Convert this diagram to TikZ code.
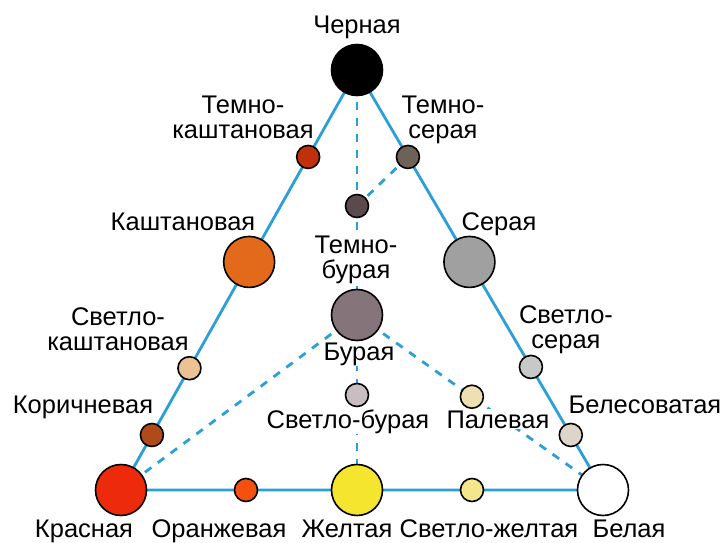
\documentclass[tikz,border=0pt]{standalone}
\usepackage{fontspec}
\setmainfont{Liberation Sans}
\usetikzlibrary{calc}
\definecolor{edgeblue}{HTML}{2A9FD8}
\definecolor{cKr}{HTML}{EE2A0C}
\definecolor{cTk}{HTML}{C0300A}
\definecolor{cKa}{HTML}{E36A1A}
\definecolor{cSk}{HTML}{EBC294}
\definecolor{cKo}{HTML}{B04A1A}
\definecolor{cTs}{HTML}{6E6258}
\definecolor{cSe}{HTML}{A0A0A0}
\definecolor{cSs}{HTML}{C8C8C8}
\definecolor{cBs}{HTML}{DDD5CC}
\definecolor{cTb}{HTML}{5A4A4C}
\definecolor{cBu}{HTML}{85747A}
\definecolor{cSb}{HTML}{C8BEC2}
\definecolor{cPa}{HTML}{EEE0B0}
\definecolor{cOr}{HTML}{F5500F}
\definecolor{cZh}{HTML}{F5E52E}
\definecolor{cSz}{HTML}{F3E78A}
\tikzset{
  edge/.style={draw=edgeblue,line width=2.8pt},
  dedge/.style={draw=edgeblue,line width=2.8pt,dash pattern=on 8pt off 8pt},
  big/.style={circle,draw=black,line width=1.6pt,minimum size=51pt,inner sep=0pt},
  small/.style={circle,draw=black,line width=1.6pt,minimum size=23pt,inner sep=0pt},
  lbl/.style={font=\fontsize{25.5}{25}\selectfont,inner sep=1pt,anchor=base,align=center},
  flbl/.style={lbl,fill=white},
}
\begin{document}
\begin{tikzpicture}[x=1pt,y=-1pt]
\useasboundingbox (0,0) rectangle (728,543);
% main vertices
\coordinate (pCh) at (357,70);
\coordinate (pKr) at (121,490);
\coordinate (pBe) at (603,490);
\coordinate (pTb) at (357,206);
\coordinate (pBu) at (357,315);
\coordinate (pSb) at (357,395);
\coordinate (pZh) at (357,490);
% edges
\draw[edge] (pCh) -- (pKr) -- (pBe) -- cycle;
\draw[dedge] (pCh) -- (pTb);
\draw[dedge] ($(pCh)!0.207!(pBe)$) -- (pTb);
\draw[dedge] (pTb) -- (pBu);
\draw[dedge] (pBu) -- (pKr);
\draw[dedge] (pBu) -- (pBe);
\draw[dedge] (pBu) -- (pSb);
\draw[dedge] (pSb) -- (pZh);
% labels
\node[lbl] (lCh) at (357,34) {Черная};
\node[lbl] (lTk) at (243,138) {Темно-\\каштановая};
\node[lbl] (lTs) at (443,138) {Темно-\\серая};
\node[lbl] (lKa) at (183,230) {Каштановая};
\node[lbl] (lSe) at (499,230) {Серая};
\node[flbl] (lTb) at (356,278) {Темно-\\бурая};
\node[flbl] (lBu) at (359,360) {Бурая};
\node[lbl] (lSk) at (118,350) {Светло-\\каштановая};
\node[lbl] (lSs) at (566,348) {Светло-\\серая};
\node[lbl] (lKo) at (83,413) {Коричневая};
\node[lbl] (lBs) at (645,413) {Белесоватая};
\node[flbl] (lSb) at (348,428) {Светло-бурая};
\node[flbl] (lPa) at (498,428) {Палевая};
\node[lbl] (lKr) at (84,537) {Красная};
\node[lbl] (lOr) at (219,537) {Оранжевая};
\node[lbl] (lZh) at (347,537) {Желтая};
\node[lbl] (lSz) at (489,537) {Светло-желтая};
\node[lbl] (lBe) at (629,537) {Белая};
% circles
\node[big,fill=black] (ch) at (pCh) {};
\node[big,fill=cKr] (kr) at (pKr) {};
\node[big,fill=white] (be) at (pBe) {};
\node[small,fill=cTk] (tk) at ($(pCh)!0.207!(pKr)$) {};
\node[big,fill=cKa] (ka) at ($(pCh)!0.457!(pKr)$) {};
\node[small,fill=cSk] (sk) at ($(pCh)!0.710!(pKr)$) {};
\node[small,fill=cKo] (ko) at ($(pCh)!0.869!(pKr)$) {};
\node[small,fill=cTs] (ts) at ($(pCh)!0.207!(pBe)$) {};
\node[big,fill=cSe] (se) at ($(pCh)!0.457!(pBe)$) {};
\node[small,fill=cSs] (ss) at ($(pCh)!0.707!(pBe)$) {};
\node[small,fill=cBs] (bs) at ($(pCh)!0.869!(pBe)$) {};
\node[small,fill=cTb] (tb) at (pTb) {};
\node[big,fill=cBu] (bu) at (pBu) {};
\node[small,fill=cSb] (sb) at (pSb) {};
\node[small,fill=cPa] (pa) at ($(pBu)!0.467!(pBe)$) {};
\node[small,fill=cOr] (or) at (246,490) {};
\node[big,fill=cZh] (zh) at (pZh) {};
\node[small,fill=cSz] (sz) at (472,490) {};
\end{tikzpicture}
\end{document}
